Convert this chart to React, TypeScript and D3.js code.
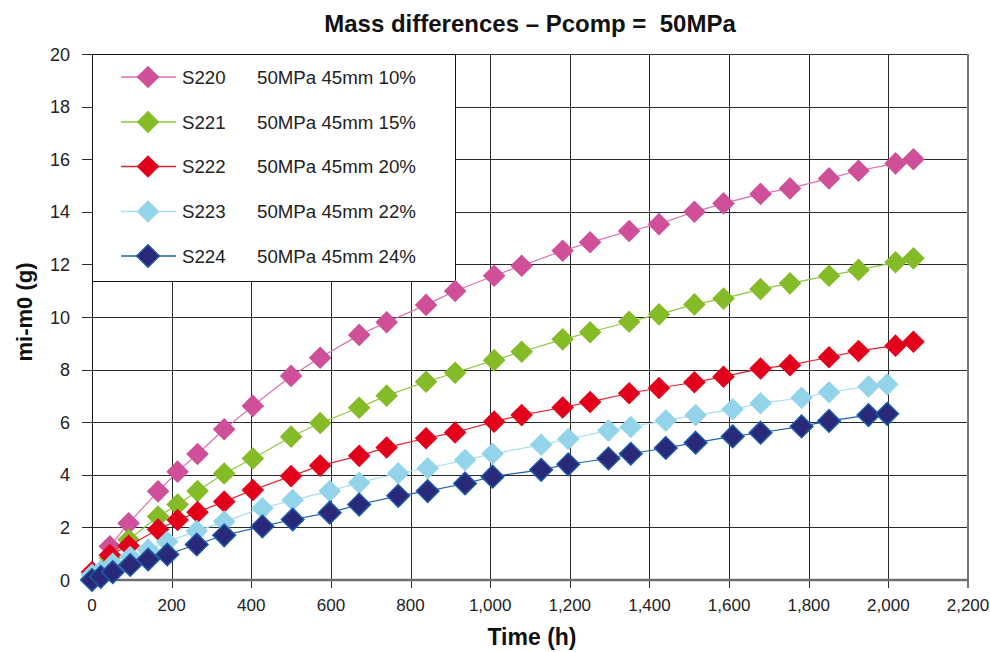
import React from "react";
import * as d3 from "d3";

const timesA = [0, 45, 92, 166, 215, 265, 332, 404, 500, 573, 671, 740, 839, 912, 1010, 1079, 1182, 1251, 1349, 1424, 1513, 1586, 1679, 1753, 1851, 1925, 2018, 2063];
const timesB = [0, 22, 52, 96, 141, 189, 263, 332, 428, 504, 597, 671, 769, 843, 937, 1006, 1128, 1196, 1297, 1353, 1441, 1516, 1609, 1679, 1782, 1851, 1950, 1997];

const s220 = [0.05, 1.28, 2.16, 3.37, 4.12, 4.79, 5.73, 6.62, 7.76, 8.45, 9.32, 9.8, 10.46, 10.99, 11.57, 11.95, 12.52, 12.84, 13.27, 13.53, 14.0, 14.32, 14.68, 14.89, 15.27, 15.56, 15.84, 16.0];
const s221 = [0.05, 0.85, 1.53, 2.41, 2.87, 3.38, 4.05, 4.62, 5.45, 5.97, 6.55, 7.01, 7.54, 7.88, 8.36, 8.68, 9.15, 9.42, 9.82, 10.1, 10.48, 10.7, 11.06, 11.28, 11.57, 11.79, 12.08, 12.23];
const s222 = [0.3, 0.95, 1.3, 1.92, 2.28, 2.58, 2.98, 3.42, 3.95, 4.35, 4.72, 5.04, 5.39, 5.61, 6.02, 6.27, 6.56, 6.77, 7.1, 7.3, 7.52, 7.73, 8.04, 8.17, 8.47, 8.71, 8.91, 9.06];
const s223 = [0.2, 0.35, 0.62, 0.87, 1.15, 1.45, 1.86, 2.22, 2.73, 3.04, 3.38, 3.7, 4.06, 4.25, 4.56, 4.8, 5.14, 5.36, 5.68, 5.82, 6.06, 6.27, 6.49, 6.72, 6.93, 7.14, 7.36, 7.44];
const s224 = [0, 0.12, 0.3, 0.57, 0.78, 0.97, 1.35, 1.7, 2.04, 2.3, 2.56, 2.87, 3.2, 3.38, 3.67, 3.93, 4.19, 4.4, 4.62, 4.8, 5.02, 5.22, 5.46, 5.6, 5.84, 6.05, 6.27, 6.32];

const seriesNames = ["S220", "S221", "S222", "S223", "S224"];
const seriesDesc = ["50MPa 45mm 10%", "50MPa 45mm 15%", "50MPa 45mm 20%", "50MPa 45mm 22%", "50MPa 45mm 24%"];
const xTicks = [0, 200, 400, 600, 800, 1000, 1200, 1400, 1600, 1800, 2000, 2200];
const yTicks = [0, 2, 4, 6, 8, 10, 12, 14, 16, 18, 20];

const seriesVals = [s220, s221, s222, s223, s224];
const seriesTimes = [timesA, timesA, timesA, timesB, timesB];
const fills = ["#cf4f99", "#84bb26", "#e2001a", "#93d4ea", "#2a2878"];
const strokes = ["none", "none", "none", "none", "#1b5aa8"];
const lineCols = ["#dc6fb0", "#8dc63f", "#e3202f", "#a9dcf0", "#1f5fb0"];

const L = 92, R = 968, T = 54, B = 580;
const FONT = "'Liberation Sans', Arial, Helvetica, sans-serif";

export default function App() {
  const x = d3.scaleLinear().domain([0, 2200]).range([L, R]);
  const y = d3.scaleLinear().domain([0, 20]).range([B, T]);
  const fmt = d3.format(",");
  const r = 11.3;
  const diamond = `M0,${-r}L${r},0L0,${r}L${-r},0Z`;
  const line = d3.line<[number, number]>().x((d) => x(d[0])).y((d) => y(d[1]));

  const legendYs = [77, 122, 166.5, 211.5, 256];

  return (
    <svg width={990} height={652} style={{ position: "absolute", left: 0, top: 0, background: "#fff" }}>
      <rect x={0} y={0} width={990} height={652} fill="#fff" />
      {/* grid */}
      {yTicks.filter((v) => v > 0).map((v) => (
        <line key={"gy" + v} x1={L} x2={R} y1={Math.round(y(v)) + 0.5} y2={Math.round(y(v)) + 0.5} stroke="#2a2a2a" strokeWidth={1} />
      ))}
      {xTicks.filter((v) => v > 0 && v < 2200).map((v) => (
        <line key={"gx" + v} x1={Math.round(x(v)) + 0.5} x2={Math.round(x(v)) + 0.5} y1={T} y2={B + 8} stroke="#2a2a2a" strokeWidth={1} />
      ))}
      {/* borders */}
      <line x1={R} x2={R} y1={T} y2={B + 8} stroke="#7a7a7a" strokeWidth={2} />
      <line x1={L + 0.5} x2={L + 0.5} y1={T} y2={B} stroke="#111" strokeWidth={1} />
      <line x1={L - 10} x2={R + 1} y1={B} y2={B} stroke="#6f6f6f" strokeWidth={2.5} />
      <line x1={L} x2={L} y1={B} y2={B + 8} stroke="#2a2a2a" strokeWidth={1} />
      {yTicks.filter((v) => v > 0).map((v) => (
        <line key={"ty" + v} x1={L - 10} x2={L} y1={Math.round(y(v)) + 0.5} y2={Math.round(y(v)) + 0.5} stroke="#2a2a2a" strokeWidth={1} />
      ))}
      {/* legend box */}
      <rect x={L + 0.5} y={T + 0.5} width={363} height={227} fill="#fff" stroke="#111" strokeWidth={1} />
      {/* series */}
      {seriesVals.map((vals, i) => {
        const pts: [number, number][] = vals.map((v, j) => [seriesTimes[i][j], v]);
        return (
          <g key={"s" + i}>
            <path d={line(pts) || ""} fill="none" stroke={lineCols[i]} strokeWidth={1.2} />
            {pts.map((p, j) => (
              <path key={j} d={diamond} transform={`translate(${x(p[0])},${y(p[1])})`} fill={fills[i]} stroke={strokes[i]} strokeWidth={1.5} />
            ))}
          </g>
        );
      })}
      {/* legend entries */}
      {seriesNames.map((n, i) => (
        <g key={"lg" + i}>
          <line x1={121} x2={176} y1={legendYs[i]} y2={legendYs[i]} stroke={lineCols[i]} strokeWidth={1.5} />
          <path d={diamond} transform={`translate(148,${legendYs[i]})`} fill={fills[i]} stroke={strokes[i]} strokeWidth={1.5} />
          <text x={182} y={legendYs[i] + 6.8} fontFamily={FONT} fontSize={18.7} fill="#222">{n}</text>
          <text x={257} y={legendYs[i] + 6.8} fontFamily={FONT} fontSize={18.7} fill="#222">{seriesDesc[i]}</text>
        </g>
      ))}
      {/* y tick labels */}
      {yTicks.map((v) => (
        <text key={"yl" + v} x={70} y={y(v) + 6.5} textAnchor="end" fontFamily={FONT} fontSize={18} fill="#222">{v}</text>
      ))}
      {/* x tick labels */}
      {xTicks.map((v) => (
        <text key={"xl" + v} x={x(v)} y={611} textAnchor="middle" fontFamily={FONT} fontSize={17} fill="#222">{fmt(v)}</text>
      ))}
      {/* titles */}
      <text x={530} y={32} textAnchor="middle" fontFamily={FONT} fontSize={24} fontWeight="bold" fill="#111" style={{ whiteSpace: "pre" }}>{"Mass differences – Pcomp =  50MPa"}</text>
      <text x={532} y={645} textAnchor="middle" fontFamily={FONT} fontSize={23} fontWeight="bold" fill="#111">Time (h)</text>
      <text transform="translate(32,312) rotate(-90)" textAnchor="middle" fontFamily={FONT} fontSize={22} fontWeight="bold" fill="#111">mi-m0 (g)</text>
    </svg>
  );
}
